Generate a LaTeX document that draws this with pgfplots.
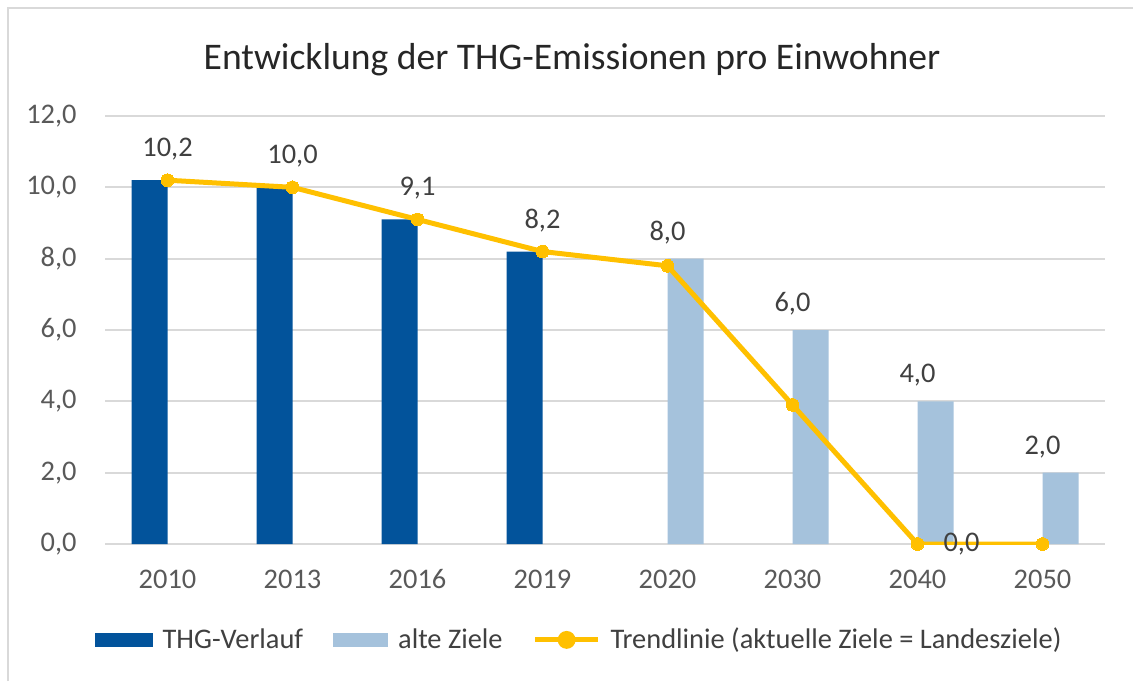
\documentclass[border=0pt]{standalone}
\usepackage{fontspec}
\setmainfont{Carlito}
\usepackage{pgfplots}
\pgfplotsset{compat=1.18}
\definecolor{darkblue}{RGB}{2,83,155}
\definecolor{lightblue}{RGB}{165,194,220}
\definecolor{trendyellow}{RGB}{255,192,0}
\definecolor{gridgray}{RGB}{217,217,217}
\definecolor{ticktext}{RGB}{89,89,89}
\definecolor{labeltext}{RGB}{64,64,64}
\definecolor{titletext}{RGB}{38,38,38}
\begin{document}
\begin{tikzpicture}
\useasboundingbox (0,0) rectangle (566.5pt,340.5pt);
\draw[gridgray, line width=1pt] (3.8pt,0pt) -- (3.8pt,336.3pt) -- (566.5pt,336.3pt);
\node[font=\fontsize{18.8}{22}\selectfont, text=titletext] at (286pt,310.5pt) {Entwicklung der THG-Emissionen pro Einwohner};
\begin{axis}[
  at={(52.5pt,68.5pt)}, anchor=south west,
  scale only axis, width=500pt, height=214pt,
  xmin=-0.5, xmax=7.5, ymin=0, ymax=12,
  xtick={0,1,2,3,4,5,6,7},
  xticklabels={2010,2013,2016,2019,2020,2030,2040,2050},
  ytick={0,2,4,6,8,10,12},
  ymajorgrids, grid style={gridgray, line width=1pt},
  axis line style={draw=none},
  major tick length=0pt,
  /pgf/number format/.cd, fixed, fixed zerofill, precision=1, use comma, assume math mode=true,
  /pgfplots/.cd,
  tick label style={font=\fontsize{14.2}{17}\selectfont, text=ticktext},
  yticklabel style={anchor=east, inner sep=0pt, xshift=-14pt},
  xticklabel style={anchor=base, inner sep=0pt, yshift=-22pt},
  nodes near coords style={font=\fontsize{14.2}{17}\selectfont, text=labeltext},
  legend style={draw=none, at={(0.475,-0.224)}, anchor=center, legend columns=3,
    font=\fontsize{14.2}{17}\selectfont, text=labeltext,
    /tikz/every even column/.append style={column sep=13pt},
    /tikz/every odd column/.append style={column sep=3pt},
    nodes={inner sep=2pt}},
]
\addplot[ybar, bar width=0.288, bar shift=-0.144, fill=darkblue, draw=none,
  nodes near coords, every node near coord/.append style={anchor=center, yshift=15.5pt},
  legend image code/.code={\fill[darkblue] (0pt,-3.5pt) rectangle (29pt,3.5pt);}]
  coordinates {(0,10.2) (1,10.0) (2,9.1) (3,8.2)};
\addlegendentry{THG-Verlauf}
\addplot[ybar, bar width=0.288, bar shift=0.144, fill=lightblue, draw=none,
  nodes near coords, every node near coord/.append style={anchor=center, yshift=13pt},
  legend image code/.code={\fill[lightblue] (0pt,-3.5pt) rectangle (27.5pt,3.5pt);}]
  coordinates {(4,8.0) (5,6.0) (6,4.0) (7,2.0)};
\addlegendentry{alte Ziele}
\addplot[trendyellow, line width=2.5pt, mark=*, mark size=3.2pt,
  mark options={fill=trendyellow, draw=trendyellow, line width=0pt},
  legend image code/.code={\draw[trendyellow, line width=2.5pt] (0pt,0pt) -- (31.5pt,0pt);
    \fill[trendyellow] (15.75pt,0pt) circle (3.2pt);}]
  coordinates {(0,10.2) (1,10.0) (2,9.1) (3,8.2) (4,7.8) (5,3.9) (6,0.0) (7,0.0)};
\addlegendentry{Trendlinie (aktuelle Ziele = Landesziele)}
\addplot[draw=none, mark=none, forget plot, nodes near coords,
  every node near coord/.append style={anchor=center, xshift=22pt}]
  coordinates {(6,0.0)};
\end{axis}
\end{tikzpicture}
\end{document}
